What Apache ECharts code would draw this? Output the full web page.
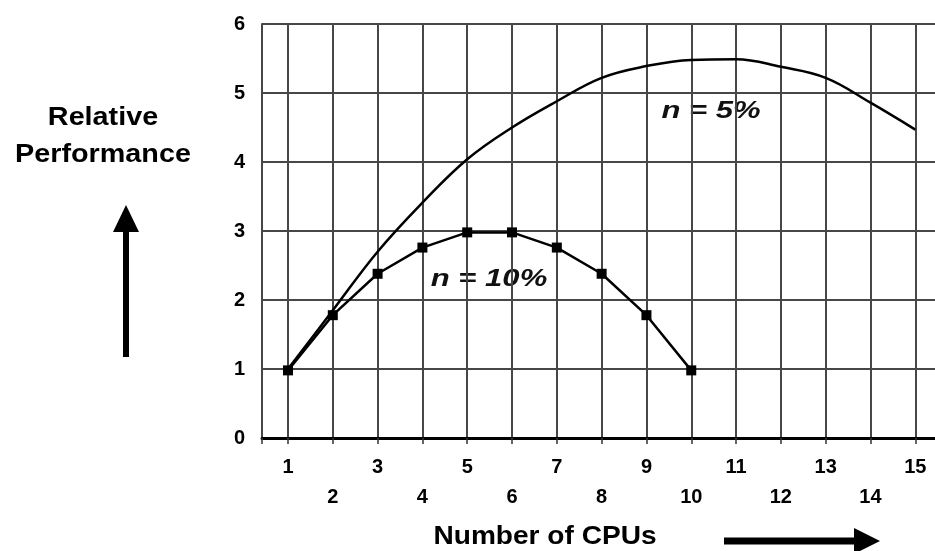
<!DOCTYPE html>
<html>
<head>
<meta charset="utf-8">
<script src="https://cdn.jsdelivr.net/npm/echarts@6/dist/echarts.min.js"></script>
<style>
html,body{margin:0;padding:0;background:#fff;}
#c{width:935px;height:551px;}
</style>
</head>
<body>
<div id="c"></div>
<script>
// CPU counts
var cpus5 = [1,2,3,4,5,6,7,8,9,10,11,12,13,14,15];
var cpus10 = [1,2,3,4,5,6,7,8,9,10];
// Relative performance, n = 5%
var perf5 = [1.0,1.85,2.7,3.41,4.04,4.5,4.88,5.22,5.39,5.48,5.49,5.38,5.22,4.86,4.47];
// Relative performance, n = 10%
var perf10 = [0.98,1.78,2.38,2.76,2.98,2.98,2.76,2.38,1.78,0.98];
var yTicks = [0,1,2,3,4,5,6];

var FONT = '"Liberation Sans", Arial, sans-serif';
var chart = echarts.init(document.getElementById('c'), null, {renderer:'canvas'});

function pairs(xs, ys){ return xs.map(function(x,i){ return [x, ys[i]]; }); }

var gridColor = '#474747';

chart.setOption({
  animation:false,
  backgroundColor:'#fff',
  grid:{left:262, right:0, top:24, bottom:113, containLabel:false},
  xAxis:{
    type:'value', min:0.42, max:15.44, splitNumber:15, minInterval:1, maxInterval:1,
    axisLine:{show:true, onZero:false, lineStyle:{color:'#000', width:3}},
    axisTick:{show:true, length:6, inside:false, lineStyle:{color:'#333', width:1.5}},
    axisLabel:{
      margin:14, color:'#000', fontSize:20, fontWeight:'bold', fontFamily:FONT, lineHeight:30,
      showMaxLabel:false,
      formatter:function(v){
        if (Math.abs(v-Math.round(v))>1e-6 || v<1 || v>15) return '';
        v = Math.round(v);
        return (v%2===1) ? String(v) : '\n'+v;
      }
    },
    splitLine:{show:true, showMaxLine:false, lineStyle:{color:gridColor, width:2}}
  },
  yAxis:{
    type:'value', min:0, max:6, interval:1,
    axisLine:{show:true, lineStyle:{color:gridColor, width:2}},
    axisTick:{show:false},
    axisLabel:{margin:17, color:'#000', fontSize:20, fontWeight:'bold', fontFamily:FONT,
      formatter:function(v){ return yTicks.indexOf(v)>=0 ? String(v) : ''; }},
    splitLine:{show:true, lineStyle:{color:gridColor, width:2}}
  },
  series:[
    {
      name:'n = 5%', type:'line', data:pairs(cpus5, perf5), smooth:0.4,
      showSymbol:false, symbol:'none',
      lineStyle:{color:'#000', width:2.5}, z:3
    },
    {
      name:'n = 10%', type:'line', data:pairs(cpus10, perf10), smooth:false,
      symbol:'rect', symbolSize:10, showSymbol:true,
      itemStyle:{color:'#000'},
      lineStyle:{color:'#000', width:2.5}, z:4
    }
  ],
  graphic:[
    {type:'text', x:103, y:118, scaleX:1.15, style:{text:'Relative', x:0, y:0, align:'center', verticalAlign:'middle', fontSize:25, fontWeight:'bold', fontFamily:FONT, fill:'#000'}},
    {type:'text', x:103, y:155, scaleX:1.15, style:{text:'Performance', x:0, y:0, align:'center', verticalAlign:'middle', fontSize:25, fontWeight:'bold', fontFamily:FONT, fill:'#000'}},
    {type:'text', x:545, y:537, scaleX:1.08, style:{text:'Number of CPUs', x:0, y:0, align:'center', verticalAlign:'middle', fontSize:26, fontWeight:'bold', fontFamily:FONT, fill:'#000'}},
    {type:'text', x:711, y:112, scaleX:1.35, style:{text:'n = 5%', x:0, y:0, align:'center', verticalAlign:'middle', fontSize:23, fontWeight:'bold', fontStyle:'italic', fontFamily:FONT, fill:'#111'}},
    {type:'text', x:489, y:280, scaleX:1.35, style:{text:'n = 10%', x:0, y:0, align:'center', verticalAlign:'middle', fontSize:23, fontWeight:'bold', fontStyle:'italic', fontFamily:FONT, fill:'#111'}},
    // up arrow
    {type:'rect', shape:{x:123, y:228, width:6, height:129}, style:{fill:'#000'}},
    {type:'polygon', shape:{points:[[126,205],[139,232],[113,232]]}, style:{fill:'#000'}},
    // right arrow
    {type:'rect', shape:{x:724, y:537.5, width:134, height:7}, style:{fill:'#000'}},
    {type:'polygon', shape:{points:[[880,541],[854,528],[854,554]]}, style:{fill:'#000'}}
  ]
});
</script>
</body>
</html>
